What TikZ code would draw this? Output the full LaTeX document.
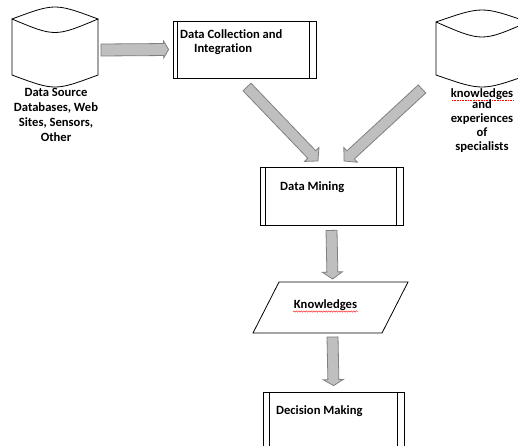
\documentclass[tikz,border=0pt]{standalone}
\usepackage{fontspec}
\setmainfont{Carlito}[Ligatures=NoCommon]
\usetikzlibrary{calc,decorations.pathmorphing}
\tikzset{
  lbl/.style={font=\bfseries\fontsize{12.6}{15}\selectfont, inner sep=0pt, align=center},
  box/.style={draw, line width=0.8pt, inner sep=0pt, rectangle},
  barrowstyle/.style={fill=black!25, draw=black!50, line width=0.8pt},
  ln/.style={line width=0.8pt},
  wavy/.style={red, line width=0.4pt, decorate, decoration={snake, amplitude=0.7pt, segment length=2.5pt}}
}
\newcommand\barrow[5]{%
  \path let \p1=(#1),\p2=(#2),\n1={atan2(\y2-\y1,\x2-\x1)},\n2={veclen(\x2-\x1,\y2-\y1)} in \pgfextra{\xdef\barang{\n1}\xdef\barlen{\n2}};
  \begin{scope}[shift={(#1)},rotate=\barang]
    \draw[barrowstyle] (0,#3) -- ({\barlen-#5},#3) -- ({\barlen-#5},#4) -- (\barlen,0) -- ({\barlen-#5},-#4) -- ({\barlen-#5},-#3) -- (0,-#3) -- cycle;
  \end{scope}}
\begin{document}
\begin{tikzpicture}[x=1pt,y=1pt]
\useasboundingbox (0,0) rectangle (518,-445);
\clip (0,0) rectangle (518,-445);
\fill[white] (0,0) rectangle (518,-445);

% left cylinder
\draw[ln] (12,-19) .. controls (55,-3) .. (98,-19) .. controls (55,-37) .. (12,-19) -- (12,-75) .. controls (55,-91) .. (98,-75) -- (98,-19);
\coordinate (src) at (55,-50);
\node[lbl] (srcT) at (56,-115) {Data Source\\Databases, Web\\Sites, Sensors,\\Other};

% right cylinder
\draw[ln] (436,-22) .. controls (482,-6) .. (528,-22) .. controls (482,-42) .. (436,-22) -- (436,-75) .. controls (482,-91) .. (528,-75) -- (528,-22);
\coordinate (kes) at (482,-50);
\node[lbl] (kT1) at (482,-94) {knowledges};
\draw[red, densely dotted, line width=0.6pt] (452,-100) -- (513,-100);
\node[lbl] (kT2) at (482,-126) {and\\[-1pt]experiences\\[-1pt]of\\[-1pt]specialists};

% Data Collection box
\node[box, minimum width=143pt, minimum height=57pt] (dc) at (244.5,-49.5) {};
\draw[ln] ([xshift=5pt]dc.north west) -- ([xshift=5pt]dc.south west);
\draw[ln] ([xshift=-7pt]dc.north east) -- ([xshift=-7pt]dc.south east);
\node[lbl, anchor=west] (dcT1) at (180,-34) {Data Collection and};
\node[lbl, anchor=west] (dcT2) at (194,-49) {Integration};

% Data Mining box
\node[box, minimum width=143pt, minimum height=58pt] (dm) at (331.5,-196) {};
\draw[ln] ([xshift=6pt]dm.north west) -- ([xshift=6pt]dm.south west);
\draw[ln] ([xshift=-7pt]dm.north east) -- ([xshift=-7pt]dm.south east);
\node[lbl, anchor=west] (dmT) at (280,-187) {Data Mining};

% Knowledges parallelogram
\draw[ln] (279,-282) -- (408,-282) -- (382,-333) -- (253,-333) -- cycle;
\coordinate (kn) at (330.5,-307.5);
\node[lbl] (knT) at (325.5,-305) {Knowledges};
\draw[wavy] (293,-311.5) -- (358,-311.5);

% Decision Making box
\node[box, minimum width=141pt, minimum height=68pt] (dmk) at (333.5,-426) {};
\draw[ln] ([xshift=7pt]dmk.north west) -- ([xshift=7pt]dmk.south west);
\draw[ln] ([xshift=-7pt]dmk.north east) -- ([xshift=-7pt]dmk.south east);
\node[lbl, anchor=west] (dmkT) at (276,-411) {Decision Making};

% block arrows
\coordinate (a1s) at ($(src)+(46,0)$);
\coordinate (a1e) at ($(dc.west)+(-4,0)$);
\barrow{a1s}{a1e}{6}{8.5}{5}

\coordinate (a2s) at (247,-87);
\coordinate (a2e) at (318,-161);
\barrow{a2s}{a2e}{5.5}{10}{9}

\coordinate (a3s) at (422,-89);
\coordinate (a3e) at (344,-161);
\barrow{a3s}{a3e}{5.5}{10}{9}

\coordinate (a4s) at ([yshift=-5pt]dm.south);
\coordinate (a4e) at (332.5,-279);
\barrow{a4s}{a4e}{5.5}{10}{7}

\coordinate (a5s) at (332.5,-337);
\coordinate (a5e) at ([yshift=6pt]dmk.north);
\barrow{a5s}{a5e}{5.5}{10}{6}
\end{tikzpicture}
\end{document}
